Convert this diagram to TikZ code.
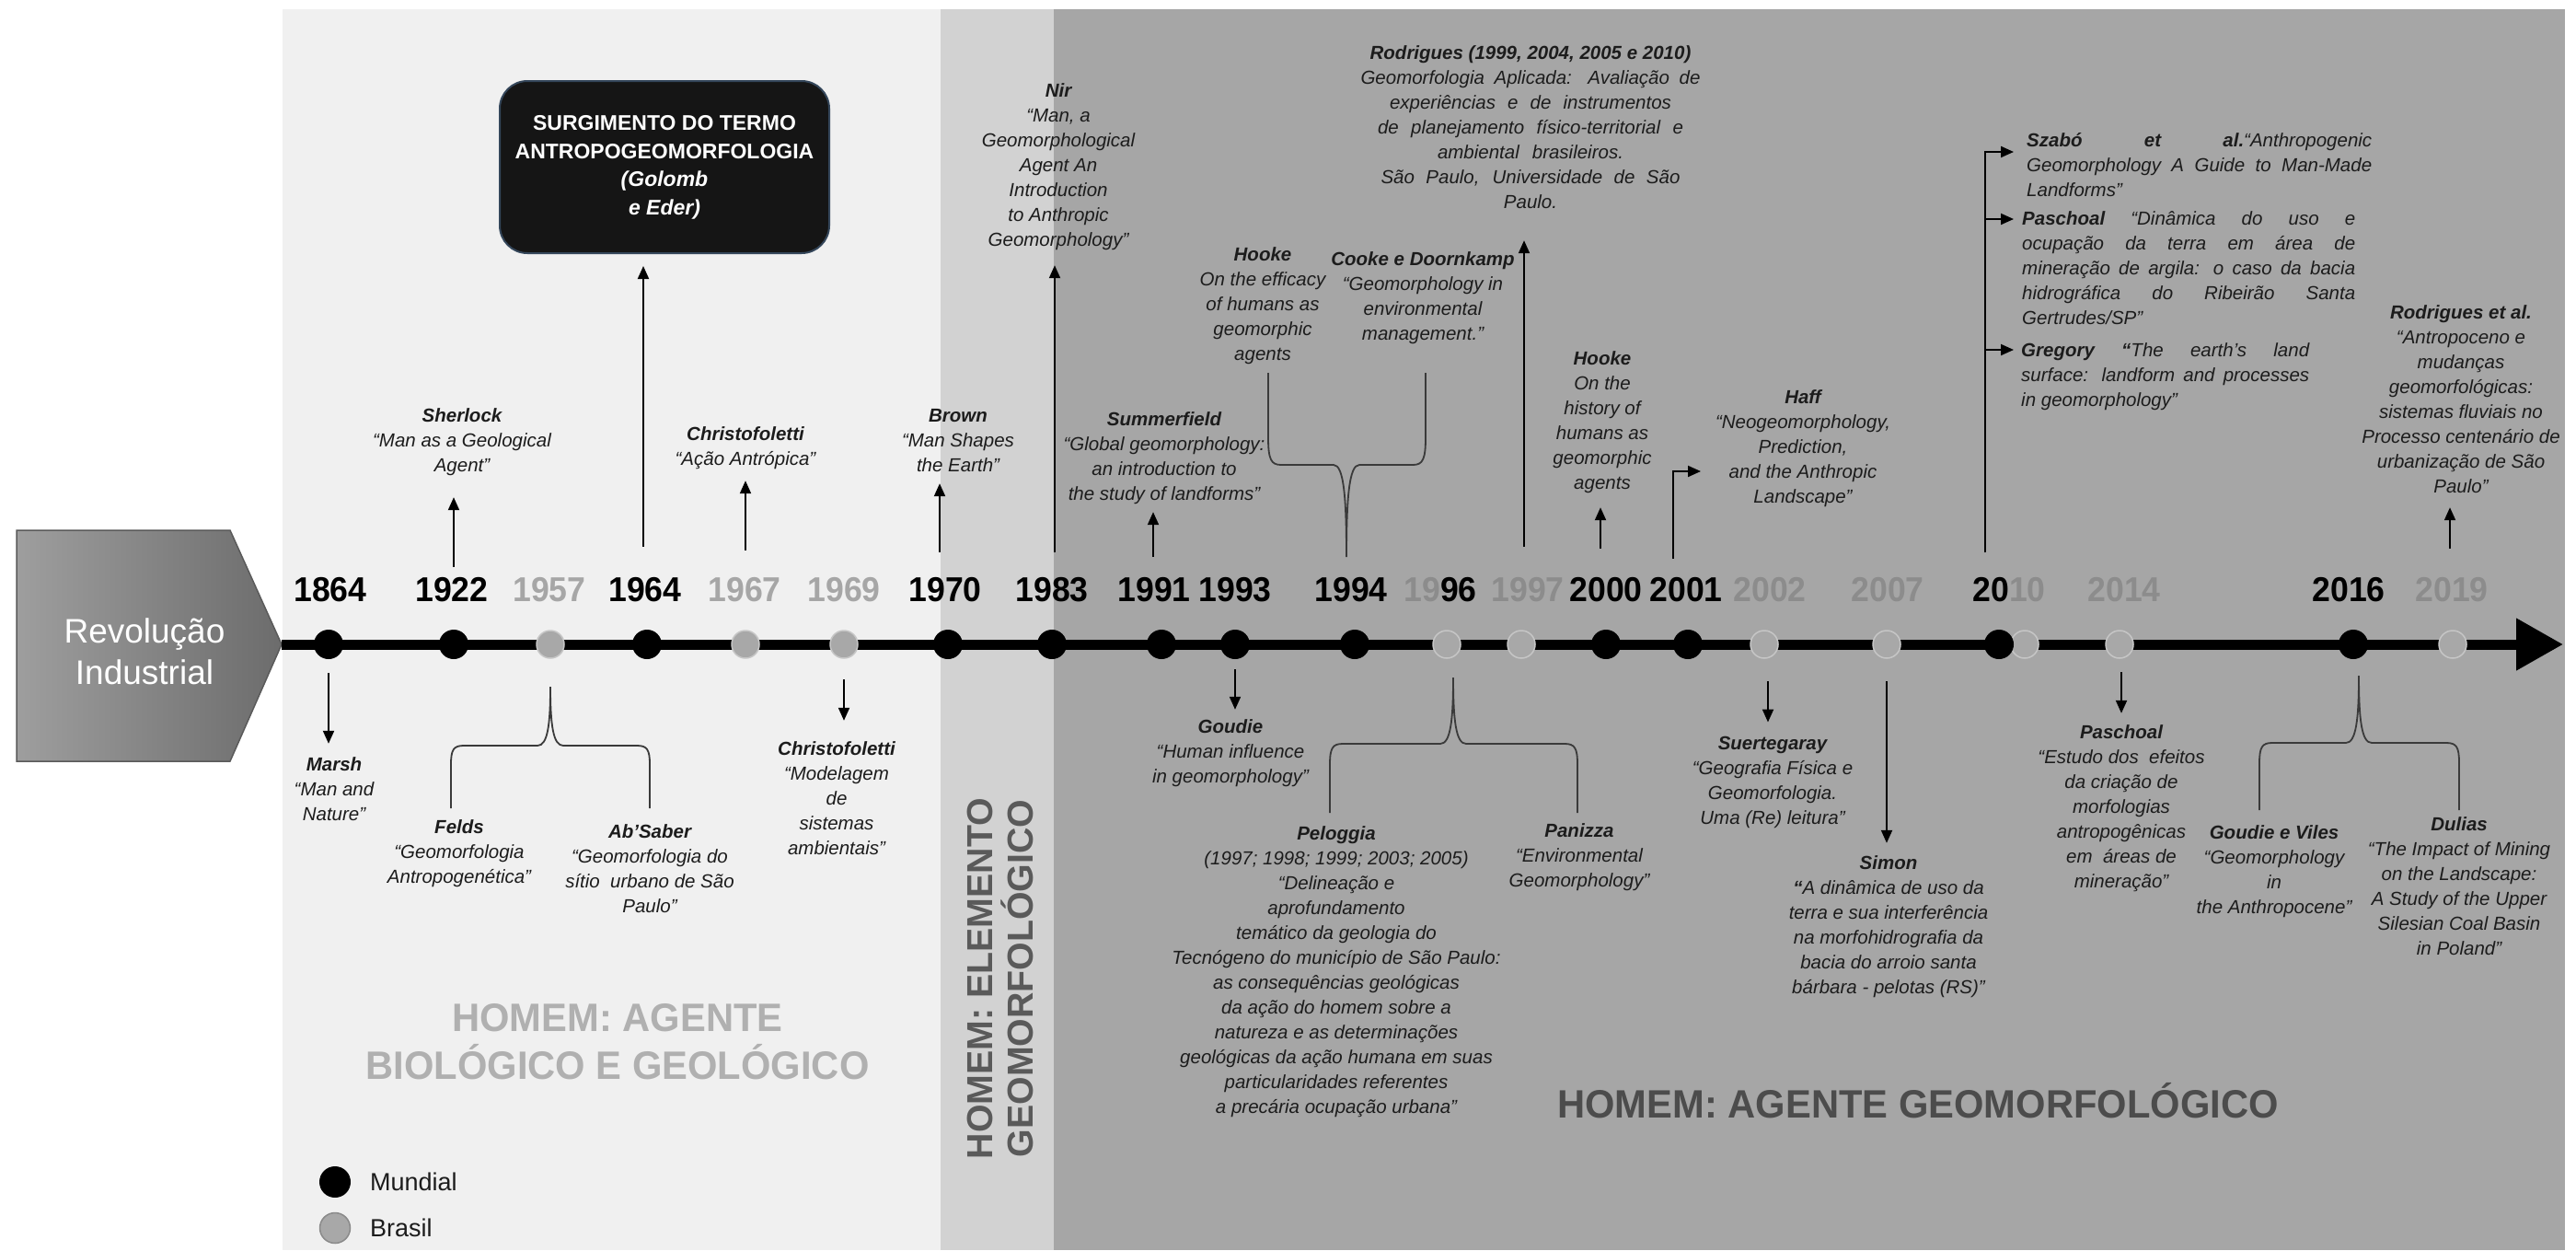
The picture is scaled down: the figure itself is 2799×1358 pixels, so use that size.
\documentclass[tikz,border=0pt]{standalone}
\usepackage{fontspec}
\setmainfont{Liberation Sans}
\newfontfamily\yearfont{Liberation Sans}[FakeStretch=0.95]
\newfontfamily\erafont{Liberation Sans}[FakeStretch=0.97]
\usetikzlibrary{arrows.meta}

\definecolor{bgA}{HTML}{F0F0F0}
\definecolor{bgB}{HTML}{D2D2D2}
\definecolor{bgC}{HTML}{A6A6A6}
\definecolor{yrA}{HTML}{A6A6A6}
\definecolor{yrC}{HTML}{8C8C8C}
\definecolor{txtc}{HTML}{1C1C1C}
\definecolor{dotfill}{HTML}{A8A8A8}
\definecolor{dotline}{HTML}{C6C6C6}
\definecolor{legline}{HTML}{8A8A8A}
\definecolor{bracec}{HTML}{3A3A3A}
\definecolor{pentL}{HTML}{9E9E9E}
\definecolor{pentR}{HTML}{6C6C6C}
\definecolor{pentE}{HTML}{5A5A5A}
\definecolor{boxfill}{HTML}{151515}
\definecolor{boxedge}{HTML}{34465A}
\definecolor{eraA}{HTML}{B0B0B0}
\definecolor{eraB}{HTML}{5A5A5A}
\definecolor{eraC}{HTML}{4C4C4C}

% curly brace: #1 left arm x, #2 right arm x, #3 tip x, #4 tip y, #5 bar y, #6 arm end y
\newcommand{\tlbrace}[6]{%
  \draw[brc] (#1,#6) -- (#1,{#5+0.3*(#6-#5)})
    .. controls (#1,{#5+0.06*(#6-#5)}) and ({#1+3},#5) .. ({#1+14},#5)
    -- ({#3-14},#5)
    .. controls ({#3-3},#5) and (#3,{#5+0.35*(#4-#5)}) .. (#3,#4)
    .. controls (#3,{#5+0.35*(#4-#5)}) and ({#3+3},#5) .. ({#3+14},#5)
    -- ({#2-14},#5)
    .. controls ({#2-3},#5) and (#2,{#5+0.06*(#6-#5)}) .. (#2,{#5+0.3*(#6-#5)})
    -- (#2,#6);}

\begin{document}
\begin{tikzpicture}[x=1pt,y=-1pt,
  txt/.style={align=center, inner sep=0pt, text=txtc,
    font=\fontsize{20.5}{27}\selectfont\itshape},
  jtxt/.style={txt, align=left, anchor=west},
  yr/.style={anchor=base, inner sep=0pt,
    font=\yearfont\bfseries\fontsize{37.5}{40}\selectfont},
  yrm/.style={yr, text=black},
  yra/.style={yr, text=yrA},
  yrc/.style={yr, text=yrC},
  mdot/.style={circle, fill=black, minimum size=32pt, inner sep=0pt},
  bdot/.style={circle, fill=dotfill, draw=dotline, line width=1.5pt,
    minimum size=30pt, inner sep=0pt},
  arr/.style={draw=black, line width=2pt, -{Triangle[length=14pt,width=12pt]}},
  brc/.style={draw=bracec, line width=1.8pt},
  era/.style={inner sep=0pt, align=center,
    font=\erafont\bfseries\fontsize{43}{52}\selectfont},
  surg/.style={draw=boxedge, fill=boxfill, rounded corners=30pt, line width=2pt,
    minimum width=358pt, minimum height=187pt, inner sep=0pt, text=white,
    align=center, font=\bfseries\fontsize{23}{30.7}\selectfont},
  rev/.style={align=center, inner sep=0pt, text=white,
    font=\fontsize{37}{45}\selectfont},
  leg/.style={inner sep=0pt, anchor=west, text=txtc,
    font=\fontsize{27}{32}\selectfont}
]
\useasboundingbox (0,0) rectangle (2799,1358);

% background bands
\fill[white] (0,0) rectangle (2799,1358);
\fill[bgA] (307,10) rectangle (1022,1358);
\fill[bgB] (1022,10) rectangle (1145,1358);
\fill[bgC] (1145,10) rectangle (2787,1358);

% era labels
\node[era, text=eraA] (eraA) at (671,1132) {HOMEM: AGENTE\\BIOLÓGICO E GEOLÓGICO};
\node[inner sep=0pt, align=center, rotate=90, text=eraB,
  font=\bfseries\fontsize{39.3}{44}\selectfont] (eraB) at (1087,1063)
  {HOMEM: ELEMENTO\\GEOMORFOLÓGICO};
\node[era, text=eraC, anchor=base] (eraC) at (2084,1214.5) {HOMEM: AGENTE GEOMORFOLÓGICO};

% starting block
\shadedraw[left color=pentL, right color=pentR, draw=pentE, line width=1.5pt]
  (18,576) -- (250,576) -- (306,700) -- (250,827) -- (18,827) -- cycle;
\coordinate (revtip) at (306,700);
\node[rev] (rev) at (157,711.5) {\strut Revolução\\Industrial\strut};

% time axis
\coordinate (tlend) at (2785,700);
\draw[line width=11pt, -{Triangle[length=51pt,width=54pt]}] (revtip) -- (tlend);

% events on the axis
\node[mdot] (d1864) at (357,700) {};
\node[mdot] (d1922) at (493,700) {};
\node[bdot] (d1957) at (598,700) {};
\node[mdot] (d1964) at (703,700) {};
\node[bdot] (d1967) at (810,700) {};
\node[bdot] (d1969) at (917,700) {};
\node[mdot] (d1970) at (1030,700) {};
\node[mdot] (d1983) at (1143,700) {};
\node[mdot] (d1991) at (1262,700) {};
\node[mdot] (d1993) at (1342,700) {};
\node[mdot] (d1994) at (1472,700) {};
\node[bdot] (d1996) at (1572,700) {};
\node[bdot] (d1997) at (1653,700) {};
\node[mdot] (d2000) at (1745,700) {};
\node[mdot] (d2001) at (1834,700) {};
\node[bdot] (d2002) at (1917,700) {};
\node[bdot] (d2007) at (2050,700) {};
\node[bdot] (d2010b) at (2200,700) {};
\node[mdot] (d2010) at (2172,700) {};
\node[bdot] (d2014) at (2303,700) {};
\node[mdot] (d2016) at (2557,700) {};
\node[bdot] (d2019) at (2665,700) {};

% years
\node[yrm] (y1864) at (359,653) {1864};
\node[yrm] (y1922) at (491,653) {1922};
\node[yra] (y1957) at (597,653) {1957};
\node[yrm] (y1964) at (701,653) {1964};
\node[yra] (y1967) at (809,653) {1967};
\node[yra] (y1969) at (917,653) {1969};
\node[yrm] (y1970) at (1027,653) {1970};
\node[yrm] (y1983) at (1143,653) {1983};
\node[yrm] (y1991) at (1254,653) {1991};
\node[yrm] (y1993) at (1342,653) {1993};
\node[yrm] (y1994) at (1468,653) {1994};
\node[yrm] (y1996) at (1565,653) {{\color{yrC}19}96};
\node[yrc] (y1997) at (1660,653) {1997};
\node[yrm] (y2000) at (1745,653) {2000};
\node[yrm] (y2001) at (1832,653) {2001};
\node[yrc] (y2002) at (1923,653) {2002};
\node[yrc] (y2007) at (2051,653) {2007};
\node[yrm] (y2010) at (2183,653) {20{\color{yrC}10}};
\node[yrc] (y2014) at (2308,653) {2014};
\node[yrm] (y2016) at (2552,653) {2016};
\node[yrc] (y2019) at (2664,653) {2019};

% term box
\node[surg] (box1964) at (722,181.5)
  {\strut SURGIMENTO DO TERMO\\ANTROPOGEOMORFOLOGIA\\\textit{(Golomb}\\\textit{e Eder)}\strut};

% works above the axis
\node[txt] (t1922) at (502,480) {\strut\textbf{Sherlock}\\“Man as a Geological\\Agent”\strut};
\node[txt] (t1967) at (810,487) {\strut\textbf{Christofoletti}\\“Ação Antrópica”\strut};
\node[txt] (t1970) at (1041,480) {\strut\textbf{Brown}\\“Man Shapes\\the Earth”\strut};
\node[txt] (t1983) at (1150,181) {\strut\textbf{Nir}\\“Man, a\\Geomorphological\\Agent An\\Introduction\\to Anthropic\\Geomorphology”\strut};
\node[txt] (t1991) at (1265,498) {\strut\textbf{Summerfield}\\“Global geomorphology:\\an introduction to\\the study of landforms”\strut};
\node[txt] (t1994a) at (1372,332.5) {\strut\textbf{Hooke}\\On the efficacy\\of humans as\\geomorphic\\agents\strut};
\node[txt] (t1994b) at (1546,323.5) {\strut\textbf{Cooke e Doornkamp}\\“Geomorphology in\\environmental\\management.”\strut};
\node[txt] (t1997) at (1663,140) {\strut\textbf{Rodrigues (1999, 2004, 2005 e 2010)}\\
  \makebox[369pt][s]{Geomorfologia Aplicada: Avaliação de}\\
  \makebox[306pt][s]{experiências e de instrumentos}\\
  \makebox[332pt][s]{de planejamento físico-territorial e}\\
  \makebox[202pt][s]{ambiental brasileiros.}\\
  \makebox[325pt][s]{São Paulo, Universidade de São}\\
  Paulo.\strut};
\node[txt] (t2000) at (1741,459) {\strut\textbf{Hooke}\\On the\\history of\\humans as\\geomorphic\\agents\strut};
\node[txt] (t2001) at (1959,487.5) {\strut\textbf{Haff}\\“Neogeomorphology,\\Prediction,\\and the Anthropic\\Landscape”\strut};
\node[jtxt] (t2010a) at (2202,180.6) {\strut\makebox[375pt][s]{\textbf{Szabó et al.}“Anthropogenic}\\
  \makebox[375pt][s]{Geomorphology A Guide to Man-Made}\\
  Landforms”\strut};
\node[jtxt] (t2010b) at (2197,292.6) {\strut\makebox[362pt][s]{\textbf{Paschoal} “Dinâmica do uso e}\\
  \makebox[362pt][s]{ocupação da terra em área de}\\
  \makebox[362pt][s]{mineração de argila: o caso da bacia}\\
  \makebox[362pt][s]{hidrográfica do Ribeirão Santa}\\
  Gertrudes/SP”\strut};
\node[jtxt] (t2010c) at (2196,408.6) {\strut\makebox[313pt][s]{\textbf{Gregory “}The earth’s land}\\
  \makebox[313pt][s]{surface: landform and processes}\\
  in geomorphology”\strut};
\node[txt] (t2019) at (2674,436) {\strut\textbf{Rodrigues et al.}\\“Antropoceno e\\mudanças\\geomorfológicas:\\sistemas fluviais no\\Processo centenário de\\urbanização de São\\Paulo”\strut};

% works below the axis
\node[txt] (t1864) at (363,859.5) {\strut\textbf{Marsh}\\“Man and\\Nature”\strut};
\node[txt] (t1957a) at (499,927.5) {\strut\textbf{Felds}\\“Geomorfologia\\Antropogenética”\strut};
\node[txt] (t1957b) at (706,946) {\strut\textbf{Ab’Saber}\\“Geomorfologia do\\sítio\ \ urbano de São\\Paulo”\strut};
\node[txt] (t1969) at (909,869.5) {\strut\textbf{Christofoletti}\\“Modelagem\\de\\sistemas\\ambientais”\strut};
\node[txt] (t1993) at (1337,818) {\strut\textbf{Goudie}\\“Human influence\\in geomorphology”\strut};
\node[txt] (t1996a) at (1452,1056) {\strut\textbf{Peloggia}\\(1997; 1998; 1999; 2003; 2005)\\“Delineação e\\aprofundamento\\temático da geologia do\\Tecnógeno do município de São Paulo:\\as consequências geológicas\\da ação do homem sobre a\\natureza e as determinações\\geológicas da ação humana em suas\\particularidades referentes\\a precária ocupação urbana”\strut};
\node[txt] (t1996b) at (1716,931) {\strut\textbf{Panizza}\\“Environmental\\Geomorphology”\strut};
\node[txt] (t2002) at (1926,849.5) {\strut\textbf{Suertegaray}\\“Geografia Física e\\Geomorfologia.\\Uma (Re) leitura”\strut};
\node[txt] (t2007) at (2052,1007) {\strut\textbf{Simon}\\\textbf{“}A dinâmica de uso da\\terra e sua interferência\\na morfohidrografia da\\bacia do arroio santa\\bárbara - pelotas (RS)”\strut};
\node[txt] (t2014) at (2305,878) {\strut\textbf{Paschoal}\\“Estudo dos\ \ efeitos\\da criação de\\morfologias\\antropogênicas\\em\ \ áreas de\\mineração”\strut};
\node[txt] (t2016a) at (2471,947) {\strut\textbf{Goudie e Viles}\\“Geomorphology\\in\\the Anthropocene”\strut};
\node[txt] (t2016b) at (2672,965) {\strut\textbf{Dulias}\\“The Impact of Mining\\on the Landscape:\\A Study of the Upper\\Silesian Coal Basin\\in Poland”\strut};

% arrows upward
\coordinate (a1922) at (493,616);
\draw[arr, shorten >=19.5pt] (a1922) -- (a1922 |- t1922.south);
\coordinate (a1964) at (699,594);
\draw[arr, shorten >=13pt] (a1964) -- (a1964 |- box1964.south);
\coordinate (a1967) at (810,598);
\draw[arr, shorten >=8pt] (a1967) -- (a1967 |- t1967.south);
\coordinate (a1970) at (1021,600);
\draw[arr, shorten >=4.5pt] (a1970) -- (a1970 |- t1970.south);
\coordinate (a1983) at (1146,600);
\draw[arr, shorten >=12.5pt] (a1983) -- (a1983 |- t1983.south);
\coordinate (a1991) at (1253,605);
\draw[arr, shorten >=4pt] (a1991) -- (a1991 |- t1991.south);
\coordinate (a1997) at (1656,594);
\draw[arr, shorten >=26.5pt] (a1997) -- (a1997 |- t1997.south);
\coordinate (a2000) at (1739,596);
\draw[arr, shorten >=11pt] (a2000) -- (a2000 |- t2000.south);
\coordinate (a2019) at (2662,596);
\draw[arr, shorten >=7pt] (a2019) -- (a2019 |- t2019.south);

% elbow arrows
\coordinate (a2001) at (1818,607);
\coordinate (h2001) at (1848,512);
\draw[arr] (a2001) |- (h2001);
\coordinate (a2010) at (2157,600);
\coordinate (h2010a) at (2188,165);
\coordinate (h2010b) at (2188,238);
\coordinate (h2010c) at (2188,380);
\draw[arr] (a2010) |- (h2010a);
\draw[arr] (a2010) |- (h2010b);
\draw[arr] (a2010) |- (h2010c);

% arrows downward
\coordinate (a1864) at (357,731);
\draw[arr, shorten >=11pt] (a1864) -- (a1864 |- t1864.north);
\coordinate (a1969) at (917,738);
\draw[arr, shorten >=19pt] (a1969) -- (a1969 |- t1969.north);
\coordinate (a1993) at (1342,727);
\draw[arr, shorten >=6.5pt] (a1993) -- (a1993 |- t1993.north);
\coordinate (a2002) at (1921,740);
\draw[arr, shorten >=10.75pt] (a2002) -- (a2002 |- t2002.north);
\coordinate (a2007) at (2050,740);
\draw[arr, shorten >=10pt] (a2007) -- (a2007 |- t2007.north);
\coordinate (a2014) at (2305,730);
\draw[arr, shorten >=8.5pt] (a2014) -- (a2014 |- t2014.north);

% braces grouping works
\tlbrace{1378}{1549}{1463}{605}{505}{405}
\tlbrace{490}{706}{598}{746}{810}{878}
\tlbrace{1445}{1714}{1579}{736}{808}{883}
\tlbrace{2455}{2672}{2563}{734}{807}{880}

% legend
\node[mdot, minimum size=34pt] (lgm) at (364,1284) {};
\node[bdot, draw=legline, minimum size=33pt] (lgb) at (364,1334) {};
\node[leg] (lgmt) at (402,1284) {Mundial};
\node[leg] (lgbt) at (402,1334) {Brasil};
\end{tikzpicture}
\end{document}
